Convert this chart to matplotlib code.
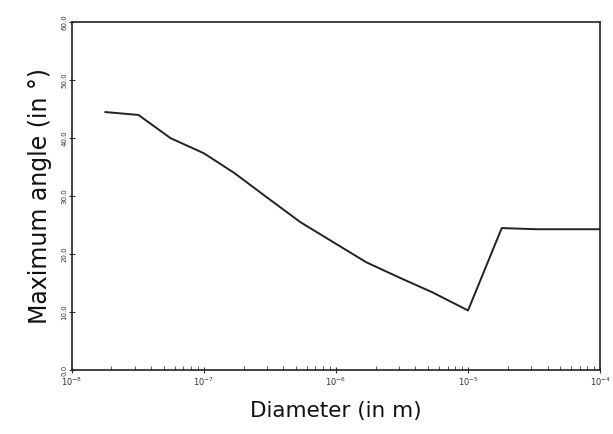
import matplotlib
matplotlib.use("Agg")
import matplotlib.pyplot as plt
from matplotlib.ticker import LogLocator, NullFormatter, FixedLocator

# diameter (m) vs maximum angle (deg)
diametre = [1.8e-8, 3.2e-8, 5.6e-8, 1.0e-7, 1.7e-7, 3.0e-7, 5.4e-7, 9.5e-7,
            1.7e-6, 3.0e-6, 5.4e-6, 1.0e-5, 1.8e-5, 3.3e-5, 1.0e-4]
angle = [44.5, 44.0, 40.0, 37.4, 34.0, 29.8, 25.5, 22.1,
         18.6, 16.0, 13.4, 10.3, 24.5, 24.3, 24.3]

yticks = [0, 10, 20, 30, 40, 50, 60]
ylabels = ["0.0", "10.0", "20.0", "30.0", "40.0", "50.0", "60.0"]
xticks = [1e-8, 1e-7, 1e-6, 1e-5, 1e-4]
xlabels = [r"$10^{-8}$", r"$10^{-7}$", r"$10^{-6}$", r"$10^{-5}$", r"$10^{-4}$"]

fig = plt.figure(figsize=(6.13, 4.34), dpi=100)
ax = fig.add_axes([0.117, 0.147, 0.862, 0.802])

ax.plot(diametre, angle, color="#222222", lw=1.4)

ax.set_xscale("log")
ax.set_xlim(1e-8, 1e-4)
ax.set_ylim(0, 60)

ax.xaxis.set_major_locator(FixedLocator(xticks))
ax.set_xticklabels(xlabels, fontsize=6)
ax.xaxis.set_minor_locator(LogLocator(base=10, subs=range(2, 10)))
ax.xaxis.set_minor_formatter(NullFormatter())

ax.set_yticks(yticks)
ax.set_yticklabels(ylabels, fontsize=5, rotation=90, va="center")

ax.tick_params(axis="both", which="major", direction="inout", length=4, width=0.8, colors="#333333")
ax.tick_params(axis="x", which="minor", direction="in", length=3, width=0.6, colors="#333333")
ax.tick_params(axis="x", pad=2)
ax.tick_params(axis="y", pad=1)

for s in ax.spines.values():
    s.set_linewidth(1.2)
    s.set_color("#222222")

ax.set_xlabel("Diameter (in m)", fontsize=15.5, color="#111111", labelpad=9)
ax.set_ylabel("Maximum angle (in °)", fontsize=17, color="#111111", labelpad=7)

fig.savefig("out.png", dpi=100)
